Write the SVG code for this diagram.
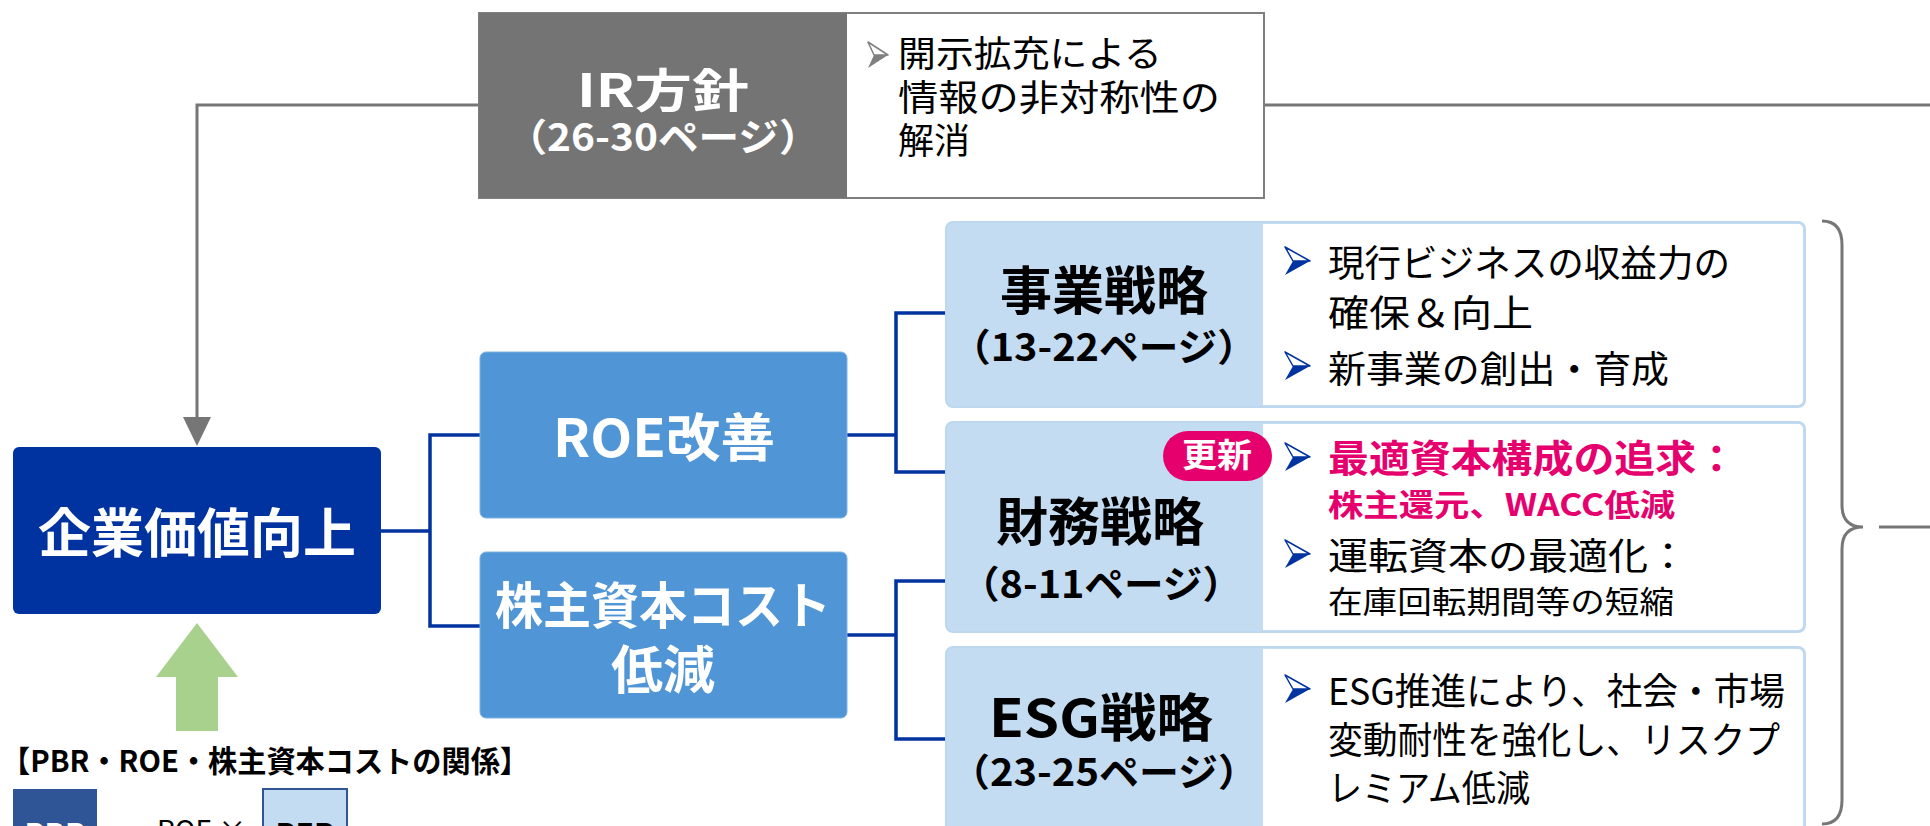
<svg xmlns="http://www.w3.org/2000/svg" width="1930" height="826" viewBox="0 0 1930 826">
<style>
text{font-family:'Noto Sans CJK JP','Noto Sans',sans-serif;}
.b{font-weight:700}
.w{fill:#ffffff}
.k{fill:#000000}
.pk{fill:#e6006e;font-weight:700}
.c{text-anchor:middle}
.blue{fill:none;stroke:#0033a0;stroke-width:3.5}
.grey{fill:none;stroke:#767676;stroke-width:3}
.lb{fill:#c4dcf1;stroke:#bdd7ee;stroke-width:2}
.mid{fill:#5095d5;stroke:#7fb2e3;stroke-width:1}
</style>
<defs>
<g id="bul"><polygon points="0,0 25,14 8,14" fill="#ffffff" stroke="#0033a0" stroke-width="1.5" stroke-linejoin="round"/><polygon points="8,14 25,14 0,28" fill="#0033a0"/></g>
<g id="bulg"><polygon points="0,0 20,13 6,13" fill="#ffffff" stroke="#7f7f7f" stroke-width="1.5" stroke-linejoin="round"/><polygon points="6,13 20,13 0,26" fill="#7f7f7f"/></g>
</defs>

<g id="connectors">
<path class="grey" d="M479,105 H197 V418"/>
<polygon points="183,417 211,417 197,446" fill="#767676"/>
<path class="grey" d="M1264,105 H1930"/>
<path class="blue" d="M381,531 H430 M480,435 H430 V626 H480"/>
<path class="blue" d="M847,435 H896 M946,313 H896 V472 H946"/>
<path class="blue" d="M847,635 H896 M946,581 H896 V739 H946"/>
<path class="grey" d="M1822,221 Q1842,221 1842,245 V505 Q1842,527 1863,527 Q1842,527 1842,549 V800 Q1842,824 1822,824"/>
<path class="grey" d="M1879,527 H1930"/>
</g>

<g id="ir">
<rect x="479" y="13" width="785" height="185" fill="#ffffff" stroke="#7f7f7f" stroke-width="2"/>
<rect x="479" y="13" width="368" height="185" fill="#747474"/>
<text class="b w c" x="663" y="107" font-size="46" textLength="172" lengthAdjust="spacingAndGlyphs">IR方針</text>
<text class="b w c" x="663" y="151" font-size="38" textLength="313" lengthAdjust="spacingAndGlyphs">（26-30ページ）</text>
<use href="#bulg" x="868" y="42"/>
<text class="k" x="898" y="67" font-size="36" textLength="264" lengthAdjust="spacingAndGlyphs">開示拡充による</text>
<text class="k" x="898" y="111" font-size="36" textLength="322" lengthAdjust="spacingAndGlyphs">情報の非対称性の</text>
<text class="k" x="898" y="154" font-size="36">解消</text>
</g>

<g id="kigyo">
<rect x="13" y="447" width="368" height="167" rx="6" fill="#0033a0"/>
<text class="b w c" x="197" y="553" font-size="53" textLength="318" lengthAdjust="spacingAndGlyphs">企業価値向上</text>
</g>

<g id="roe">
<rect class="mid" x="480" y="352" width="367" height="166" rx="6"/>
<text class="b w c" x="664" y="457" font-size="52" textLength="222" lengthAdjust="spacingAndGlyphs">ROE改善</text>
</g>

<g id="kabunushi">
<rect class="mid" x="480" y="552" width="367" height="166" rx="6"/>
<text class="b w c" x="663" y="624" font-size="50" textLength="336" lengthAdjust="spacingAndGlyphs">株主資本コスト</text>
<text class="b w c" x="663" y="689" font-size="52">低減</text>
</g>

<g id="jigyo">
<rect class="lb" x="946" y="222" width="859" height="185" rx="7"/>
<path d="M1263,224 H1798 A5,5 0 0 1 1803,229 V400 A5,5 0 0 1 1798,405 H1263 Z" fill="#ffffff"/>
<text class="b k c" x="1104" y="310" font-size="52">事業戦略</text>
<text class="b k c" x="1104" y="361" font-size="38" textLength="306" lengthAdjust="spacingAndGlyphs">（13-22ページ）</text>
<use href="#bul" x="1285" y="247"/>
<text class="k" x="1328" y="277" font-size="37" textLength="402" lengthAdjust="spacingAndGlyphs">現行ビジネスの収益力の</text>
<text class="k" x="1328" y="327" font-size="37" textLength="205" lengthAdjust="spacingAndGlyphs">確保＆向上</text>
<use href="#bul" x="1285" y="352"/>
<text class="k" x="1328" y="383" font-size="37" textLength="341" lengthAdjust="spacingAndGlyphs">新事業の創出・育成</text>
</g>

<g id="zaimu">
<rect class="lb" x="946" y="422" width="859" height="210" rx="7"/>
<path d="M1263,424 H1798 A5,5 0 0 1 1803,429 V625 A5,5 0 0 1 1798,630 H1263 Z" fill="#ffffff"/>
<text class="b k c" x="1100" y="541" font-size="52">財務戦略</text>
<text class="b k c" x="1101" y="598" font-size="38" textLength="282" lengthAdjust="spacingAndGlyphs">（8-11ページ）</text>
<rect x="1163" y="431" width="109" height="50" rx="25" fill="#e6006e"/>
<text class="b w c" x="1217" y="467" font-size="33" textLength="70" lengthAdjust="spacingAndGlyphs">更新</text>
<use href="#bul" x="1285" y="443"/>
<text class="pk" x="1328" y="472" font-size="38" textLength="409" lengthAdjust="spacingAndGlyphs">最適資本構成の追求：</text>
<text class="pk" x="1328" y="516" font-size="31" textLength="347" lengthAdjust="spacingAndGlyphs">株主還元、WACC低減</text>
<use href="#bul" x="1285" y="540"/>
<text class="k" x="1328" y="570" font-size="37" textLength="360" lengthAdjust="spacingAndGlyphs">運転資本の最適化：</text>
<text class="k" x="1328" y="613" font-size="31" textLength="346" lengthAdjust="spacingAndGlyphs">在庫回転期間等の短縮</text>
</g>

<g id="esg">
<rect class="lb" x="946" y="647" width="859" height="230" rx="7"/>
<path d="M1263,649 H1798 A5,5 0 0 1 1803,654 V875 H1263 Z" fill="#ffffff"/>
<text class="b k c" x="1101" y="737" font-size="52" textLength="224" lengthAdjust="spacingAndGlyphs">ESG戦略</text>
<text class="b k c" x="1104" y="786" font-size="38" textLength="308" lengthAdjust="spacingAndGlyphs">（23-25ページ）</text>
<use href="#bul" x="1285" y="675"/>
<text class="k" x="1328" y="705" font-size="37" textLength="457" lengthAdjust="spacingAndGlyphs">ESG推進により、社会・市場</text>
<text class="k" x="1328" y="754" font-size="37" textLength="452" lengthAdjust="spacingAndGlyphs">変動耐性を強化し、リスクプ</text>
<text class="k" x="1328" y="802" font-size="37" textLength="202" lengthAdjust="spacingAndGlyphs">レミアム低減</text>
</g>

<g id="legend">
<polygon points="197,623 238,677 218,677 218,731 176,731 176,677 156,677" fill="#a9d18e"/>
<text class="b k" x="1" y="772" font-size="30" textLength="528" lengthAdjust="spacingAndGlyphs">【PBR・ROE・株主資本コストの関係】</text>
<rect x="13" y="789" width="84" height="60" fill="#2f5597"/>
<text class="b w c" x="55" y="845" font-size="30">PBR</text>
<text class="k" x="157" y="841" font-size="28">ROE ×</text>
<rect x="263" y="789" width="84" height="60" fill="#c4dcf1" stroke="#2f5597" stroke-width="2"/>
<text class="b k c" x="305" y="845" font-size="30">PER</text>
</g>
</svg>
